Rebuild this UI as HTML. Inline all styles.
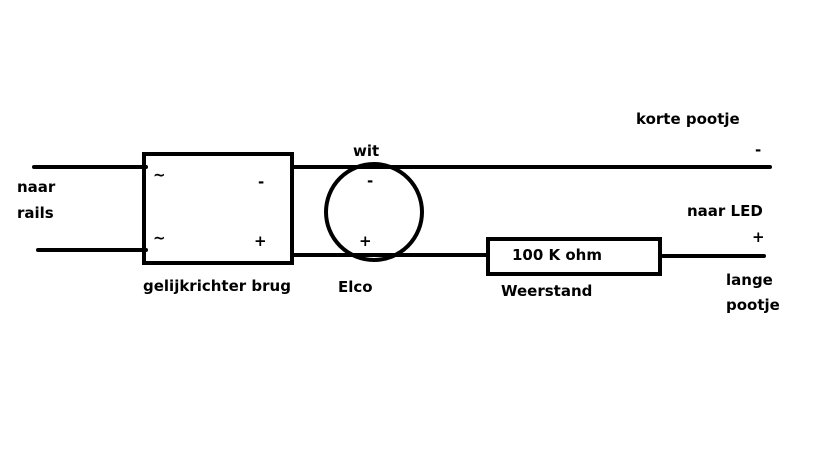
<!DOCTYPE html>
<html><head><style>body{margin:0;background:#fff}svg{display:block}text{font-family:"DejaVu Sans","Liberation Sans",sans-serif;font-weight:bold;font-size:15px;fill:#000}</style></head>
<body>
<svg width="819" height="460" viewBox="0 0 819 460">
<rect width="819" height="460" fill="#fff"/>
<g stroke="#000" stroke-width="4" fill="none" stroke-linecap="round">
<line x1="34" y1="167" x2="146" y2="167"/>
<line x1="38" y1="250" x2="146" y2="250"/>
<rect x="144" y="154" width="148" height="109"/>
<line x1="292" y1="167" x2="770" y2="167"/>
<line x1="292" y1="255" x2="487" y2="255"/>
<circle cx="374" cy="212" r="48"/>
<rect x="488" y="239" width="172" height="35"/>
<line x1="660" y1="256" x2="764" y2="256"/>
</g>
<text x="17" y="192">naar</text>
<text x="17" y="218">rails</text>
<text x="153" y="180" font-size="12">~</text>
<text x="153" y="243" font-size="12">~</text>
<text x="258" y="187">-</text>
<text x="254" y="246">+</text>
<text x="353" y="156">wit</text>
<text x="367" y="186">-</text>
<text x="359" y="246">+</text>
<text x="143" y="291">gelijkrichter brug</text>
<text x="338" y="292">Elco</text>
<text x="512" y="260">100 K ohm</text>
<text x="501" y="296">Weerstand</text>
<text x="636" y="124">korte pootje</text>
<text x="755" y="155">-</text>
<text x="687" y="216">naar LED</text>
<text x="752" y="242">+</text>
<text x="726" y="285">lange</text>
<text x="726" y="310">pootje</text>
</svg>
</body></html>
